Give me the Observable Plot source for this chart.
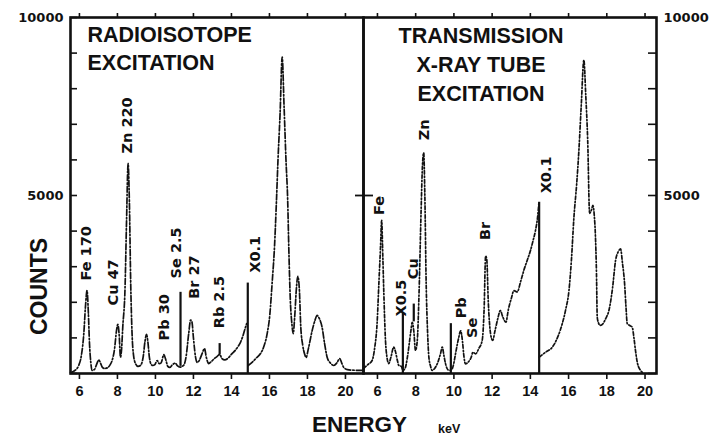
<!DOCTYPE html>
<html><head><meta charset="utf-8">
<script src="https://cdn.jsdelivr.net/npm/d3@7"></script>
<script src="https://cdn.jsdelivr.net/npm/@observablehq/plot@0.6"></script>
<style>
body{margin:0;background:#fff;}
#wrap{position:relative;width:710px;height:436px;overflow:hidden;background:#fff;}
#wrap svg{position:absolute;top:0;}
.lab{position:absolute;font-family:"Liberation Sans",Arial,sans-serif;font-weight:bold;color:#111;white-space:nowrap;}
</style></head><body><div id="wrap"></div>
<script>
// ---------- data ----------
// Left panel: radioisotope excitation (null = break in the trace)
const leftE = [5.53,5.62,5.8,5.96,6.1,6.23,6.32,6.4,6.47,6.53,6.6,6.67,6.8,6.9,7.02,7.12,7.2,7.33,7.5,7.62,7.72,7.85,7.95,8.02,8.09,8.16,8.22,8.28,8.4,8.48,8.56,8.63,8.7,8.77,8.85,8.95,9.08,9.21,9.35,9.45,9.53,9.6,9.68,9.77,9.86,9.97,10.09,10.2,10.3,10.44,10.55,10.65,10.75,10.9,11.05,11.15,11.3,11.4,11.5,11.62,11.75,11.85,11.92,12.0,12.1,12.2,12.32,12.45,12.58,12.68,12.8,12.95,13.1,13.25,13.38,13.5,13.65,13.8,14.03,14.2,14.35,14.47,14.6,14.74,14.8,14.84,14.88,15.1,15.3,15.53,15.7,15.88,16.02,16.14,16.27,16.37,16.45,16.56,16.67,16.77,16.87,16.96,17.02,17.1,17.18,17.25,17.33,17.42,17.49,17.57,17.65,17.75,17.85,17.93,18.05,18.25,18.4,18.51,18.62,18.77,18.9,19.04,19.2,19.39,19.55,19.7,19.8,19.91,20.1,20.5,20.95];
const leftC = [30,40,100,225,500,1120,1900,2330,1700,840,300,85,120,250,380,280,180,140,170,250,365,700,1200,1380,1100,460,700,1300,2400,4300,5900,4800,2500,1120,500,280,200,225,450,900,1100,900,460,260,225,250,365,280,300,530,380,200,170,250,290,220,180,200,240,500,1120,1500,1450,1000,500,310,380,550,700,450,280,340,420,480,540,420,380,420,560,650,760,870,1050,1300,1400,null,225,320,430,560,750,1120,1650,2530,3600,4860,6000,7300,8890,7500,6000,4860,3500,2050,1400,1120,1600,2400,2730,2400,1300,800,550,450,700,1210,1500,1630,1550,1300,850,450,300,225,300,420,300,170,110,90,85];

// Right panel: transmission X-ray tube excitation
const rightE = [5.27,5.5,5.72,5.85,5.98,6.08,6.16,6.22,6.28,6.33,6.42,6.5,6.59,6.7,6.85,6.95,7.05,7.12,7.25,7.33,7.45,7.55,7.64,7.75,7.82,7.9,7.99,8.08,8.18,8.28,8.36,8.42,8.48,8.55,8.62,8.69,8.78,8.86,9.0,9.15,9.3,9.39,9.48,9.56,9.7,9.82,9.9,10.0,10.1,10.25,10.35,10.45,10.52,10.6,10.75,10.9,11.0,11.13,11.3,11.48,11.58,11.66,11.72,11.8,11.88,11.96,12.03,12.15,12.3,12.43,12.55,12.72,12.85,13.0,13.14,13.31,13.5,13.66,13.85,14.01,14.15,14.27,14.38,14.45,14.46,14.47,14.8,15.15,15.45,15.67,15.85,16.02,16.15,16.28,16.42,16.54,16.66,16.8,16.9,17.0,17.1,17.2,17.27,17.35,17.4,17.46,17.5,17.58,17.65,17.8,17.95,18.11,18.3,18.46,18.6,18.72,18.82,18.93,19.0,19.07,19.2,19.33,19.42,19.5,19.6,19.77,19.9];
const rightC = [140,250,365,700,1400,2600,3550,4300,3300,2330,930,450,280,450,740,600,350,225,200,90,150,400,740,1200,1440,1200,650,900,2330,4500,5900,6200,5000,2500,1200,460,200,85,150,300,560,740,500,280,100,90,120,300,600,1000,1200,900,500,270,320,450,600,550,700,930,1800,3300,3200,2000,1300,1000,930,1200,1550,1770,1600,1440,1800,2100,2330,2290,2600,2900,3200,3460,3750,4020,4400,4810,null,460,600,740,1050,1400,1800,2330,3200,4390,5300,6270,7500,8800,7800,6550,4500,4600,4720,4400,3930,2800,1580,1400,1350,1400,1550,1770,2400,3180,3420,3500,3100,2530,1900,1400,1350,1300,1000,650,300,85,20];

// Solid marker lines
const ruleLE = [11.32, 14.86, 13.38];
const ruleLLo = [200, 0, 530];
const ruleLHi = [2280, 2540, 840];
const ruleRE = [7.33, 9.84, 7.9, 14.46];
const ruleRLo = [0, 0, 1450, 0];
const ruleRHi = [1700, 1400, 1950, 4810];

// Peak labels
const labLText = ["Fe 170","Cu 47","Zn 220","Pb 30","Se 2.5","Br 27","Rb 2.5","X0.1"];
const labLE = [6.37, 7.79, 8.53, 10.47, 11.1, 12.05, 13.35, 15.25];
const labLC = [2610, 1910, 6180, 930, 2670, 2100, 1270, 2830];
const labRText = ["Fe","X0.5","Cu","Zn","Pb","Se","Br","X0.1"];
const labRE = [6.12, 7.27, 7.9, 8.43, 10.37, 10.95, 11.65, 14.86];
const labRC = [4450, 1600, 2650, 6550, 1550, 1000, 3750, 5060];

const xTicks = [6, 8, 10, 12, 14, 16, 18, 20];
const yTicks = [0,1000,2000,3000,4000,5000,6000,7000,8000,9000,10000];
const yLabels = [5000, 10000];
const titleL = "RADIOISOTOPE\nEXCITATION";
const titleR = "TRANSMISSION\nX-RAY TUBE\nEXCITATION";

// ---------- build ----------
const toPts = (E, C) => E.map((e, i) => ({e, c: C[i]}));
const toRules = (E, lo, hi) => E.map((e, i) => ({e, y1: lo[i], y2: hi[i]}));
const toLabs = (T, E, C) => T.map((t, i) => ({t, e: E[i], c: C[i]}));

const H = 436, TOP = 17, BOT = 373, PW = 293;
const INK = "#111";
const SANS = "Liberation Sans, Arial, sans-serif";
const WIDE = "DejaVu Sans, sans-serif";

function panel(side) {
  const isL = side === "L";
  const pts = isL ? toPts(leftE, leftC) : toPts(rightE, rightC);
  const rules = isL ? toRules(ruleLE, ruleLLo, ruleLHi) : toRules(ruleRE, ruleRLo, ruleRHi);
  const labs = isL ? toLabs(labLText, labLE, labLC) : toLabs(labRText, labRE, labRC);
  return Plot.plot({
    width: isL ? 363 : 347, height: H,
    marginLeft: isL ? 70 : 0, marginRight: isL ? 0 : 54,
    marginTop: TOP, marginBottom: H - BOT,
    x: {domain: isL ? [5.53, 20.95] : [5.27, 20.6]},
    y: {domain: [0, 10000]},
    style: {background: "transparent", overflow: "visible", color: INK},
    marks: [
      Plot.line(pts, {x: "e", y: "c", stroke: INK, strokeWidth: 1.7,
        strokeDasharray: isL ? "6,2,1.5,2" : "3.5,2,1.3,2", curve: "monotone-x"}),
      Plot.ruleX(rules, {x: "e", y1: "y1", y2: "y2", stroke: INK, strokeWidth: 2.2}),
      Plot.text(labs, {x: "e", y: "c", text: "t", rotate: -90, textAnchor: "start",
        fontSize: 14.5, fontWeight: "bold", fontFamily: WIDE, fill: INK}),
      Plot.tickY(yTicks, {y: d => d, stroke: INK, strokeWidth: 1.6,
        insetRight: isL ? PW - 7 : 0, insetLeft: isL ? 0 : PW - 8}),
      Plot.tickY([5000], {y: d => d, stroke: INK, strokeWidth: 1.8,
        insetLeft: isL ? PW - 8 : 0, insetRight: isL ? 0 : PW - 10}),
      Plot.frame({stroke: INK, strokeWidth: 2.6}),
      Plot.axisX({anchor: "bottom", ticks: xTicks, tickSize: 6, tickPadding: 6, label: null,
        fontSize: 14.5, fontWeight: "bold", fontFamily: SANS, strokeWidth: 1.6}),
      Plot.axisX({anchor: "top", ticks: xTicks, tickSize: 5, label: null,
        tickFormat: () => "", strokeWidth: 1.6}),
      Plot.axisY({anchor: isL ? "left" : "right", ticks: yLabels, tickSize: 0, tickPadding: 7,
        label: null, tickFormat: d => String(d), fontSize: 13, fontWeight: "bold", fontFamily: WIDE}),
      Plot.text([isL ? titleL : titleR], {frameAnchor: isL ? "top-left" : "top", text: d => d,
        dx: isL ? 17 : -29, dy: 5, lineAnchor: "top", textAnchor: isL ? "start" : "middle",
        lineHeight: isL ? 1.3 : 1.34, fontSize: 21.5, fontWeight: "bold", fontFamily: SANS, fill: INK}),
      ...(isL ? [Plot.text(["COUNTS"], {frameAnchor: "left", text: d => d, dx: -31, dy: 91,
        rotate: -90, textAnchor: "middle", fontSize: 23, fontWeight: "bold", fontFamily: SANS, fill: INK})] : [])
    ]
  });
}

const wrap = document.getElementById("wrap");
const L = panel("L"); L.style.left = "0px";
const R = panel("R"); R.style.left = "363px";
wrap.appendChild(L);
wrap.appendChild(R);

const energy = document.createElement("div");
energy.className = "lab"; energy.textContent = "ENERGY";
energy.style.cssText += "left:312px;top:416px;font-size:22.5px;line-height:18px;";
wrap.appendChild(energy);
const kev = document.createElement("div");
kev.className = "lab"; kev.textContent = "keV";
kev.style.cssText += "left:438px;top:423px;font-size:12.5px;line-height:12px;";
wrap.appendChild(kev);
</script></body></html>
